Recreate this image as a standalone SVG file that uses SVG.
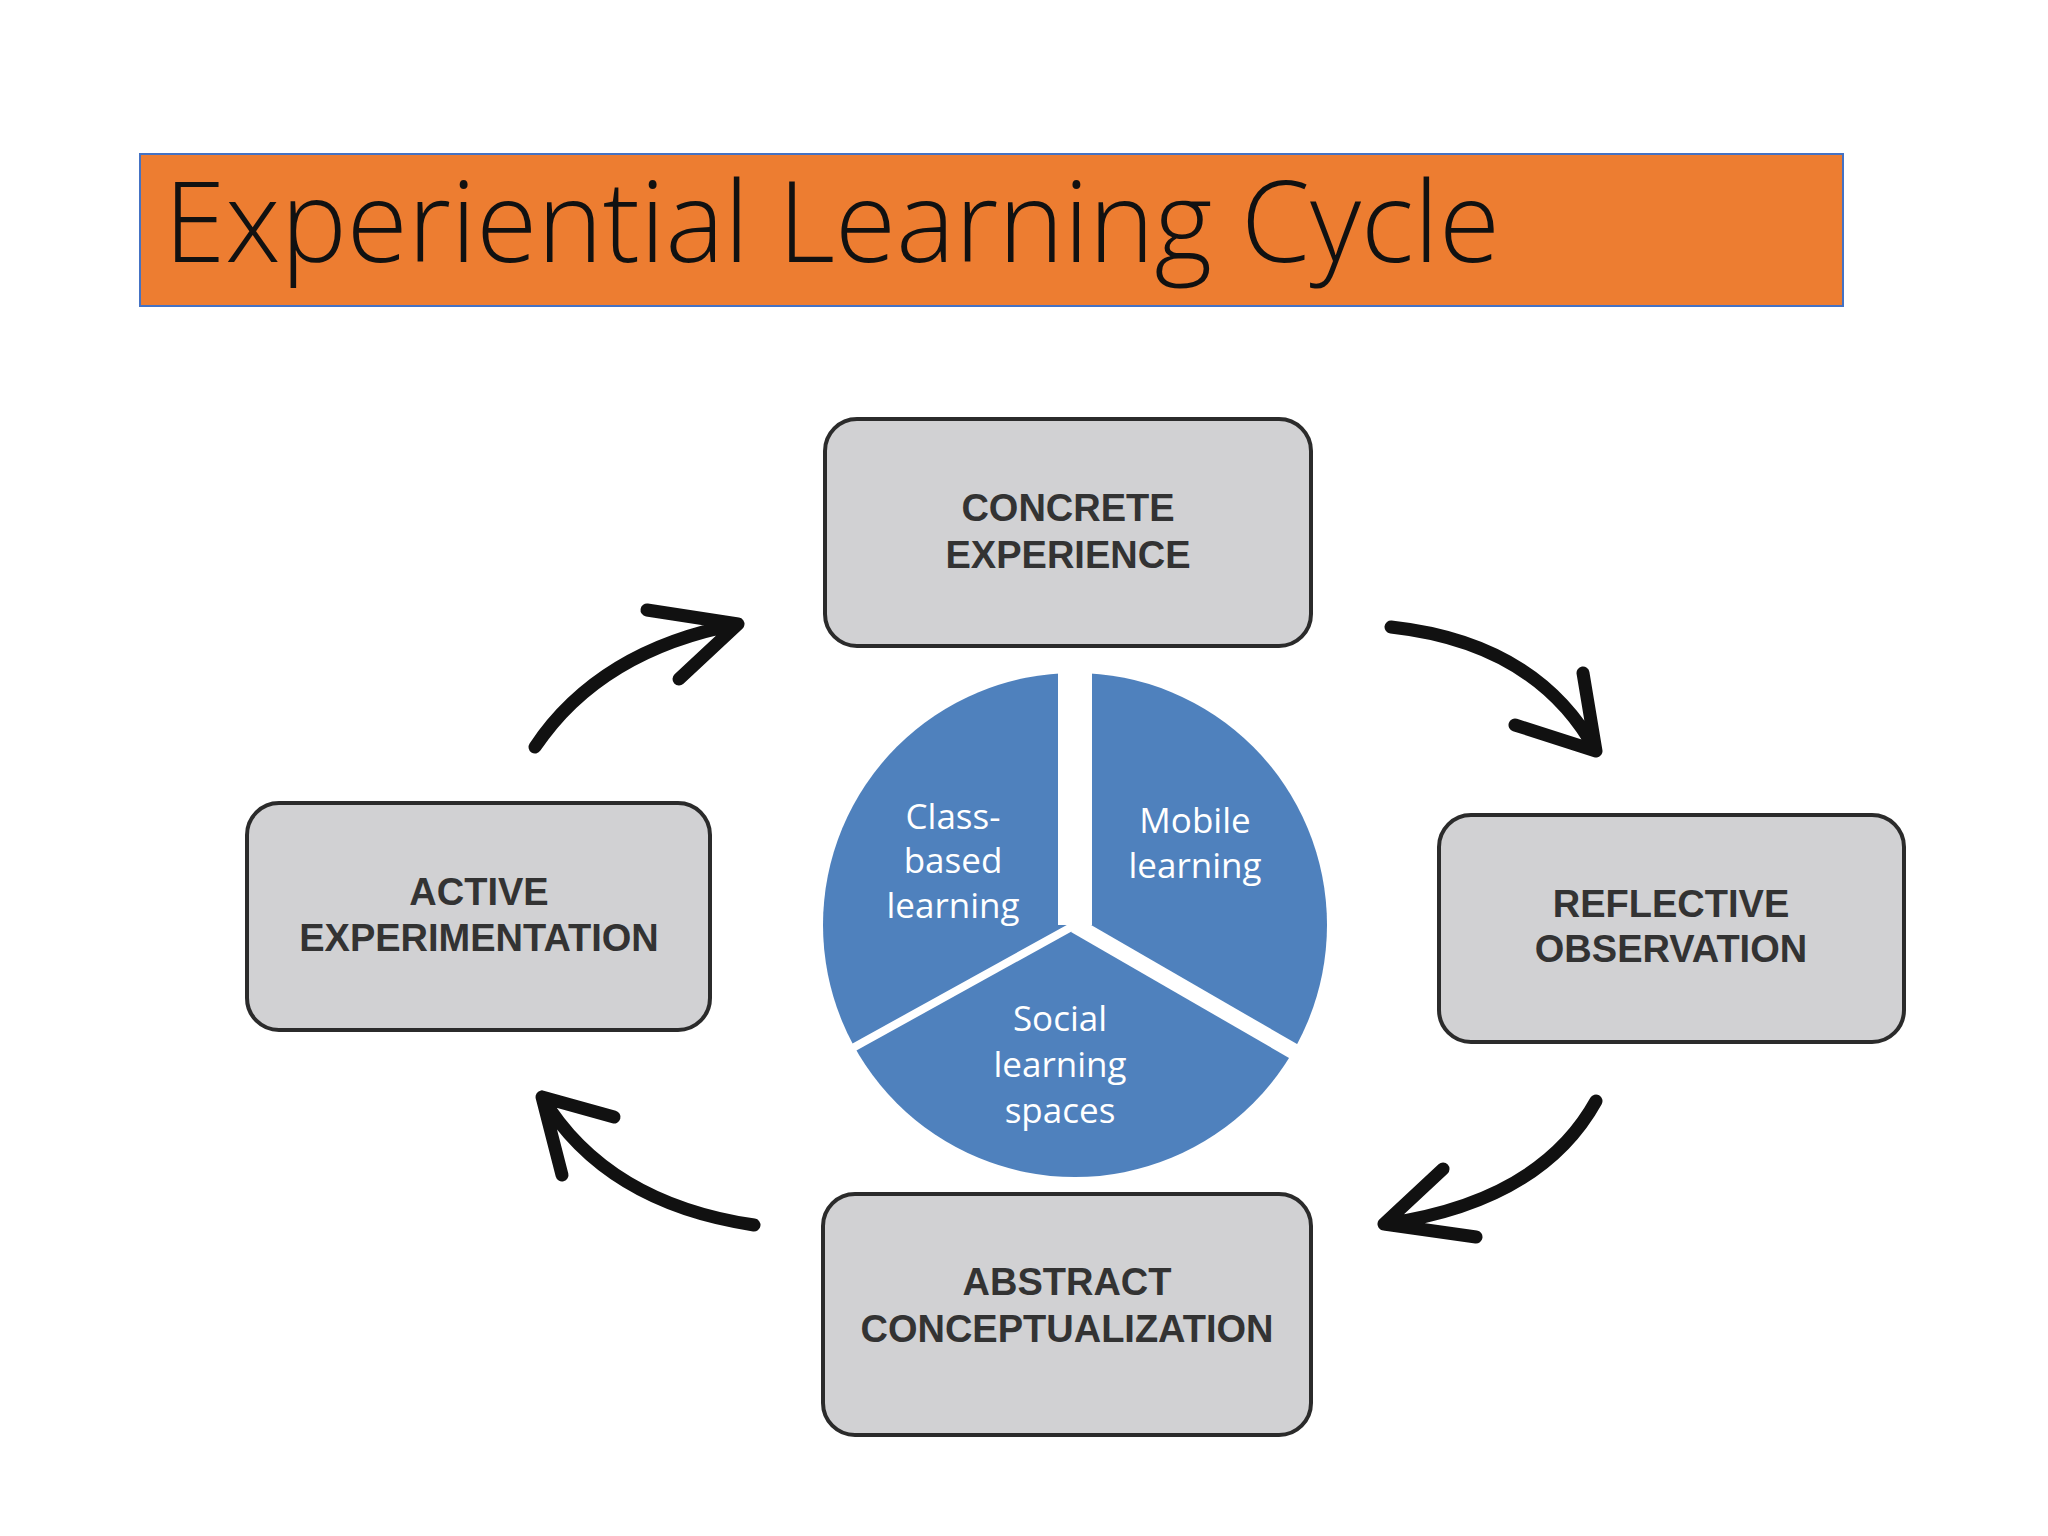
<svg xmlns="http://www.w3.org/2000/svg" width="2048" height="1536" viewBox="0 0 2048 1536">
<style>
.box{fill:#d1d1d3;stroke:#2b2b2b;stroke-width:4}
.bt{font-family:"Liberation Sans",Arial,sans-serif;font-weight:bold;font-size:38px;fill:#333;text-anchor:middle}
.pt{font-family:"Open Sans","Noto Sans",sans-serif;font-size:35px;fill:#fff;text-anchor:middle}
.arr{fill:none;stroke:#111;stroke-width:13;stroke-linecap:round;stroke-linejoin:round}
</style>
<rect width="2048" height="1536" fill="#fff"/>
<g id="title">
<rect x="140" y="154" width="1703" height="152" fill="#ed7d31" stroke="#4472c4" stroke-width="2"/>
<text x="164" y="262" font-family="Open Sans, Noto Sans, sans-serif" font-weight="300" font-size="112" fill="#111" textLength="1336" lengthAdjust="spacingAndGlyphs">Experiential Learning Cycle</text>
</g>
<g id="concrete"><rect class="box" x="825" y="419" width="486" height="227" rx="32"/>
<text class="bt" x="1068" y="521">CONCRETE</text><text class="bt" x="1068" y="568">EXPERIENCE</text></g>
<g id="reflective"><rect class="box" x="1439" y="815" width="465" height="227" rx="32"/>
<text class="bt" x="1671" y="917">REFLECTIVE</text><text class="bt" x="1671" y="962">OBSERVATION</text></g>
<g id="abstract"><rect class="box" x="823" y="1194" width="488" height="241" rx="32"/>
<text class="bt" x="1067" y="1295">ABSTRACT</text><text class="bt" x="1067" y="1342">CONCEPTUALIZATION</text></g>
<g id="active"><rect class="box" x="247" y="803" width="463" height="227" rx="32"/>
<text class="bt" x="479" y="905">ACTIVE</text><text class="bt" x="479" y="951">EXPERIMENTATION</text></g>
<g id="pie">
<circle cx="1075" cy="925" r="252" fill="#4f81bd"/>
<line x1="1075" y1="925" x2="1075" y2="660" stroke="#fff" stroke-width="34"/>
<line x1="1075" y1="925" x2="840" y2="1055" stroke="#fff" stroke-width="8"/>
<line x1="1075" y1="925" x2="1300" y2="1055" stroke="#fff" stroke-width="16"/>
<text class="pt" x="953" y="829">Class-</text><text class="pt" x="953" y="873">based</text><text class="pt" x="953" y="918">learning</text>
<text class="pt" x="1195" y="833">Mobile</text><text class="pt" x="1195" y="878">learning</text>
<text class="pt" x="1060" y="1031">Social</text><text class="pt" x="1060" y="1077">learning</text><text class="pt" x="1060" y="1123">spaces</text>
</g>
<g id="connectors">
<path class="arr" d="M535 747 Q600 650 738 624 M647 610 L738 624 L679 679"/>
<path class="arr" d="M1391 627 Q1537 643 1596 751 M1583 673 L1596 751 L1515 725"/>
<path class="arr" d="M1596 1101 Q1540 1202 1384 1224 M1476 1237 L1384 1224 L1443 1169"/>
<path class="arr" d="M754 1225 Q606 1203 542 1097 M562 1175 L542 1097 L614 1117"/>
</g>
</svg>
